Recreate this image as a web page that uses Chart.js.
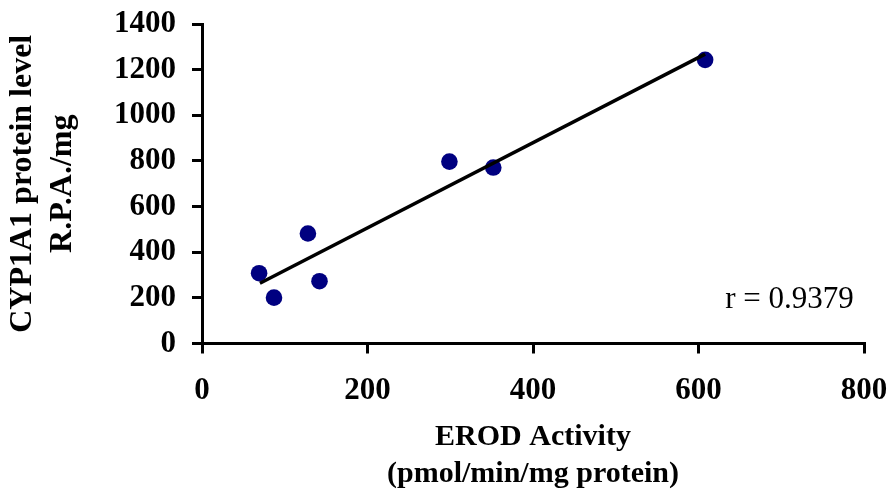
<!DOCTYPE html>
<html>
<head>
<meta charset="utf-8">
<script src="https://cdn.jsdelivr.net/npm/chart.js@4/dist/chart.umd.min.js"></script>
<style>
  html, body { margin: 0; padding: 0; background: #fff; }
  #wrap { width: 887px; height: 493px; }
</style>
</head>
<body>
<div id="wrap"><canvas id="chart"></canvas></div>
<script>
// values
const erod = [69, 87, 128, 142, 299, 352, 608];
const cyp1a1 = [308, 201, 482, 273, 797, 771, 1243];
const trendX = [70, 608];
const trendY = [264, 1268];
const rLabel = 'r = 0.9379';
const rAt = [710, 155];

const serif = "'Liberation Serif', 'Times New Roman', serif";

const points = erod.map((x, i) => ({ x: x, y: cyp1a1[i] }));
const trend = trendX.map((x, i) => ({ x: x, y: trendY[i] }));

const rText = {
    id: 'rText',
    afterDatasetsDraw(chart) {
        const ctx = chart.ctx;
        ctx.save();
        ctx.font = '31px ' + serif;
        ctx.fillStyle = '#000';
        ctx.textAlign = 'center';
        ctx.textBaseline = 'alphabetic';
        ctx.fillText(rLabel, chart.scales.x.getPixelForValue(rAt[0]), chart.scales.y.getPixelForValue(rAt[1]));
        ctx.restore();
    }
};

const axisGrid = {
    display: true,
    drawOnChartArea: false,
    drawTicks: true,
    tickLength: 10,
    color: '#000',
    lineWidth: 3
};

const plain = v => String(v);

// drop the extra room chart.js keeps for overhanging tick labels
function noOverhang(s) {
    s.paddingTop = 0;
    s.paddingRight = 0;
    s.paddingBottom = 0;
    s.paddingLeft = 0;
}

new Chart(document.getElementById('chart'), {
    type: 'scatter',
    data: {
        datasets: [{
            type: 'line',
            data: trend,
            borderColor: '#000',
            borderWidth: 3.5,
            pointRadius: 0,
            fill: false
        }, {
            data: points,
            backgroundColor: '#000080',
            borderWidth: 0,
            pointRadius: 8.3
        }]
    },
    options: {
        responsive: true,
        maintainAspectRatio: false,
        animation: false,
        layout: { padding: { top: 24, right: 23, left: 0, bottom: 0 } },
        plugins: { legend: { display: false }, tooltip: { enabled: false } },
        scales: {
            x: {
                type: 'linear',
                min: 0, max: 800,
                grid: axisGrid,
                border: { color: '#000', width: 3 },
                ticks: { stepSize: 200, color: '#000', padding: 19, callback: plain, font: { family: serif, size: 31, weight: 'bold' } },
                title: {
                    display: true,
                    text: ['EROD Activity', '(pmol/min/mg protein)'],
                    color: '#000',
                    padding: { top: 13, bottom: 0 },
                    font: { family: serif, size: 30, weight: 'bold', lineHeight: 1.25 }
                },
                afterFit(s) { s.height = 493 - 343.5; noOverhang(s); }
            },
            y: {
                min: 0, max: 1400,
                grid: axisGrid,
                border: { color: '#000', width: 3 },
                ticks: { stepSize: 200, color: '#000', padding: 16, callback: plain, font: { family: serif, size: 31, weight: 'bold' } },
                title: {
                    display: true,
                    text: ['CYP1A1 protein level', 'R.P.A./mg'],
                    color: '#000',
                    padding: { top: 3, bottom: 0 },
                    font: { family: serif, size: 32, weight: 'bold', lineHeight: 1.25 }
                },
                afterFit(s) { s.width = 202; noOverhang(s); }
            }
        }
    },
    plugins: [rText]
});
</script>
</body>
</html>
